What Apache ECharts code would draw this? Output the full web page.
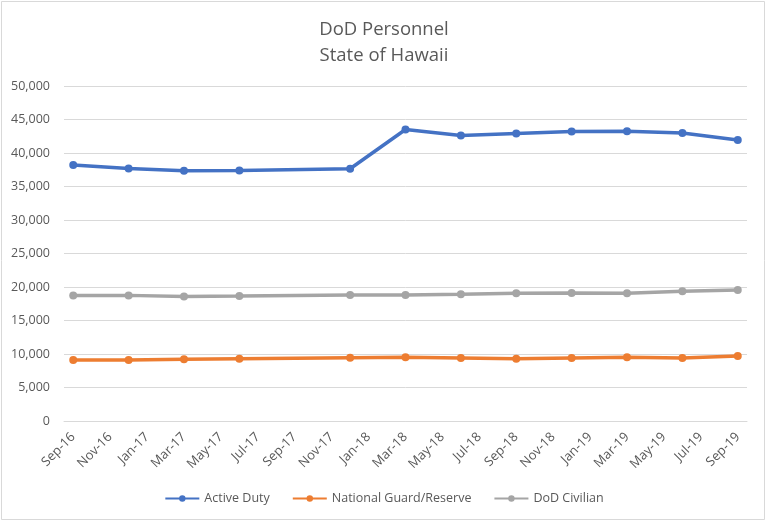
<!DOCTYPE html>
<html>
<head>
<meta charset="utf-8">
<script src="https://cdn.jsdelivr.net/npm/echarts@6/dist/echarts.min.js"></script>
<style>
html,body{margin:0;padding:0;background:#fff;}
#c{width:768px;height:522px;}
</style>
</head>
<body>
<div id="c"></div>
<script>
var months = ["Sep-16","Oct-16","Nov-16","Dec-16","Jan-17","Feb-17","Mar-17","Apr-17","May-17","Jun-17","Jul-17","Aug-17",
  "Sep-17","Oct-17","Nov-17","Dec-17","Jan-18","Feb-18","Mar-18","Apr-18","May-18","Jun-18","Jul-18","Aug-18",
  "Sep-18","Oct-18","Nov-18","Dec-18","Jan-19","Feb-19","Mar-19","Apr-19","May-19","Jun-19","Jul-19","Aug-19","Sep-19"];
var obsDates = ["Sep-16","Dec-16","Mar-17","Jun-17","Dec-17","Mar-18","Jun-18","Sep-18","Dec-18","Mar-19","Jun-19","Sep-19"];
var activeDuty = [38200, 37700, 37350, 37400, 37650, 43500, 42600, 42900, 43200, 43250, 43000, 41950];
var guardReserve = [9100, 9100, 9200, 9300, 9450, 9500, 9400, 9300, 9400, 9500, 9400, 9700];
var dodCivilian = [18750, 18750, 18600, 18650, 18800, 18800, 18900, 19050, 19100, 19050, 19350, 19550];
var yTicks = [0, 5000, 10000, 15000, 20000, 25000, 30000, 35000, 40000, 45000, 50000];

function toSeries(vals) {
  var out = months.map(function(){ return null; });
  obsDates.forEach(function(d, i){ out[months.indexOf(d)] = vals[i]; });
  return out;
}
var txt = '#595959';
var font = '"Open Sans", "Noto Sans", sans-serif';
function mk(name, color, vals) {
  return {
    name: name, type: 'line', data: toSeries(vals), connectNulls: true,
    symbol: 'circle', symbolSize: 8, showAllSymbol: true,
    lineStyle: {color: color, width: 3.5},
    itemStyle: {color: color},
    emphasis: {disabled: true}
  };
}
var chart = echarts.init(document.getElementById('c'));
chart.setOption({
  animation: false,
  backgroundColor: '#fff',
  textStyle: {fontFamily: font},
  title: {
    text: 'DoD Personnel\nState of Hawaii',
    left: 'center', top: 12,
    textStyle: {fontSize: 18.5, fontWeight: 'normal', color: txt, lineHeight: 26, fontFamily: font}
  },
  graphic: [{
    type: 'rect', shape: {x: 1.5, y: 1.5, width: 763, height: 518},
    style: {fill: 'none', stroke: '#D9D9D9', lineWidth: 1}, silent: true
  }],
  grid: {left: 64, right: 21, top: 86, bottom: 101, containLabel: false},
  legend: {
    bottom: 12, left: 'center', itemWidth: 34, itemHeight: 8, itemGap: 22,
    textStyle: {color: txt, fontSize: 12.5, fontFamily: font},
    data: ['Active Duty', 'National Guard/Reserve', 'DoD Civilian']
  },
  xAxis: {
    type: 'category', data: months, boundaryGap: true,
    axisLine: {show: true, lineStyle: {color: '#D9D9D9', width: 1}},
    axisTick: {show: false},
    axisLabel: {interval: 1, rotate: 45, color: txt, fontSize: 13, margin: 14, fontFamily: font}
  },
  yAxis: {
    type: 'value', min: yTicks[0], max: yTicks[yTicks.length-1], interval: 5000,
    axisLine: {show: false}, axisTick: {show: false},
    splitLine: {lineStyle: {color: '#D9D9D9', width: 1}},
    axisLabel: {color: txt, fontSize: 12.5, margin: 14, fontFamily: font,
      formatter: function(v){ return v.toLocaleString('en-US'); }}
  },
  series: [
    mk('Active Duty', '#4472C4', activeDuty),
    mk('National Guard/Reserve', '#ED7D31', guardReserve),
    mk('DoD Civilian', '#A5A5A5', dodCivilian)
  ]
});
</script>
</body>
</html>
